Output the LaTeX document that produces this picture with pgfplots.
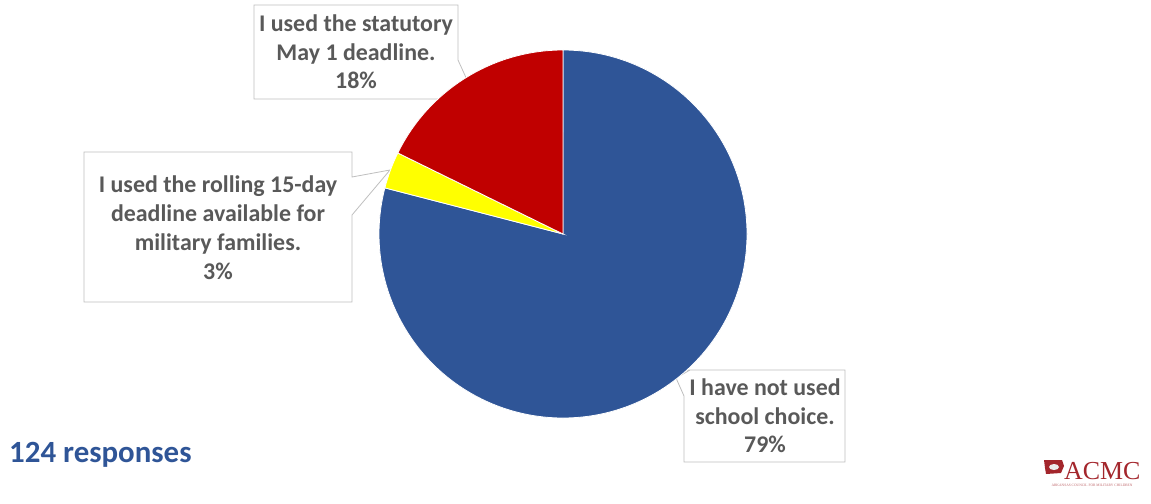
\documentclass[border=0pt]{standalone}
\usepackage{pgfplots}
\pgfplotsset{compat=1.18}
\usepackage{pgfplotstable}
\usepackage{fontspec}
\setmainfont{Carlito}
\newfontfamily\logofont{Liberation Serif}
\definecolor{pieblue}{HTML}{2F5597}
\definecolor{piered}{HTML}{C00000}
\definecolor{pieyellow}{HTML}{FFFF00}
\definecolor{txtgray}{HTML}{595959}
\definecolor{boxgray}{HTML}{BFBFBF}
\definecolor{logored}{HTML}{A3262C}

% responses per answer (124 in total) and shown percentages
\pgfplotstableread{
count pct
98 79
4 3
22 18
}\piedata

\begin{document}
\begin{tikzpicture}
\pgfplotstablegetelem{0}{count}\of\piedata \let\cA\pgfplotsretval
\pgfplotstablegetelem{1}{count}\of\piedata \let\cB\pgfplotsretval
\pgfplotstablegetelem{2}{count}\of\piedata \let\cC\pgfplotsretval
\pgfplotstablegetelem{0}{pct}\of\piedata \let\pA\pgfplotsretval
\pgfplotstablegetelem{1}{pct}\of\piedata \let\pB\pgfplotsretval
\pgfplotstablegetelem{2}{pct}\of\piedata \let\pC\pgfplotsretval
\pgfmathsetmacro\tot{\cA+\cB+\cC}
\pgfmathsetmacro\aA{90-(\cA/\tot)*360}
\pgfmathsetmacro\aB{\aA-(\cB/\tot)*360}
\pgfmathsetmacro\aC{\aB-(\cC/\tot)*360}
\begin{axis}[
  width=1151bp, height=504bp, scale only axis,
  xmin=0, xmax=1151, ymin=0, ymax=504, y dir=reverse,
  hide axis, clip=false,
]
\path (axis cs:0,0) rectangle (axis cs:1151,504);
% callout boxes
\draw[boxgray, line width=0.8bp, fill=white]
  (axis cs:254,5) -- (axis cs:458,5) -- (axis cs:458,60) -- (axis cs:468,82)
  -- (axis cs:458,90) -- (axis cs:458,99) -- (axis cs:254,99) -- cycle;
\draw[boxgray, line width=0.8bp, fill=white]
  (axis cs:84,152) -- (axis cs:352,152) -- (axis cs:352,177) -- (axis cs:390,170)
  -- (axis cs:352,215) -- (axis cs:352,302) -- (axis cs:84,302) -- cycle;
\draw[boxgray, line width=0.8bp, fill=white]
  (axis cs:684,370) -- (axis cs:845,370) -- (axis cs:845,462) -- (axis cs:684,462)
  -- (axis cs:684,396) -- (axis cs:676,378) -- (axis cs:690,370) -- cycle;
% pie slices
\filldraw[fill=pieblue, draw=white, line width=0.8bp] (axis cs:563,234) -- ++(90:184bp)
  arc[start angle=90, end angle=\aA, radius=184bp] -- cycle;
\filldraw[fill=pieyellow, draw=white, line width=0.8bp] (axis cs:563,234) -- ++(\aA:184bp)
  arc[start angle=\aA, end angle=\aB, radius=184bp] -- cycle;
\filldraw[fill=piered, draw=white, line width=0.8bp] (axis cs:563,234) -- ++(\aB:184bp)
  arc[start angle=\aB, end angle=\aC, radius=184bp] -- cycle;
% labels
\node[align=center, text=txtgray, font=\fontsize{24}{28.5}\selectfont\bfseries]
  at (axis cs:356,52) {I used the statutory\\May 1 deadline.\\\pC\%};
\node[align=center, text=txtgray, font=\fontsize{24}{29}\selectfont\bfseries]
  at (axis cs:218,228) {I used the rolling 15-day\\deadline available for\\military families.\\\pB\%};
\node[align=center, text=txtgray, font=\fontsize{24}{28.5}\selectfont\bfseries]
  at (axis cs:765,416) {I have not used\\school choice.\\\pA\%};
\node[anchor=base west, inner sep=0pt, text=pieblue, font=\fontsize{31}{36}\selectfont\bfseries]
  at (axis cs:9,462) {124 responses};
% logo
\fill[logored] (axis cs:1044,460) -- (axis cs:1062,460) -- (axis cs:1064,466) -- (axis cs:1061,473)
  -- (axis cs:1046,474) -- (axis cs:1045,468) -- cycle;
\fill[white!85!gray] (axis cs:1054,467) ellipse[x radius=5bp, y radius=3bp];
\node[anchor=base west, inner sep=0pt, text=logored, font=\logofont\fontsize{26}{30}\selectfont]
  at (axis cs:1064,479) {ACMC};
\node[anchor=base, inner sep=0pt, text=logored!70, font=\logofont\fontsize{3.6}{4}\selectfont]
  at (axis cs:1092,486) {ARKANSAS COUNCIL FOR MILITARY CHILDREN};
\end{axis}
\end{tikzpicture}
\end{document}
